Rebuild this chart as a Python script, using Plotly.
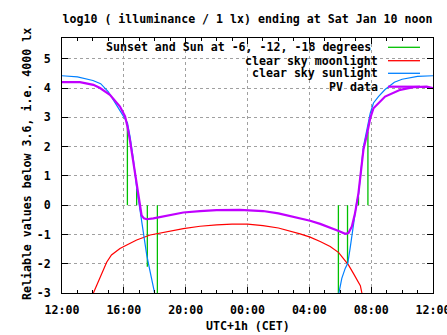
import pandas as pd
import plotly.graph_objects as go

# ---------------- data (hours after Fri Jan 9 12:00 CET) ----------------
base_time = "2015-01-09 12:00"

sun_h = [0, 1, 2, 2.5, 3, 3.5, 4.0, 4.23, 4.4, 4.61, 4.83, 4.94, 5.05, 5.26, 5.48,
         5.70, 5.91, 6.02, 6.15, None,
         17.8, 17.9, 18.1, 18.32, 18.49, 18.64, 18.79, 18.92, 19.07, 19.18, 19.35,
         19.5, 19.72, 19.94, 20.15, 20.47, 20.9, 21.5, 22, 23, 24]
sun_v = [4.42, 4.38, 4.26, 4.15, 3.87, 3.45, 3.0, 2.82, 2.35, 1.6, 0.6, 0.2, -0.25, -1.0, -1.7,
         -2.27, -2.73, -3.0, -3.4, None,
         -3.3, -3.0, -2.5, -2.16, -1.98, -1.47, -0.9, -0.33, 0.12, 0.35, 1.2,
         2.0, 2.57, 3.14, 3.49, 3.71, 3.95, 4.2, 4.3, 4.4, 4.42]

moon_h = [2.03, 2.2, 2.46, 2.89, 3.2, 3.75, 4.19, 4.83, 5.7, 6.78, 7.85, 8.93, 10, 11, 12,
          13, 14, 15.4, 16.05, 16.7, 17.35, 17.9, 18.2, 18.53, 18.85, 19.18, 19.3, 19.4]
moon_v = [-3.0, -2.8, -2.5, -1.95, -1.7, -1.48, -1.36, -1.19, -1.02, -0.90, -0.80, -0.72, -0.67,
          -0.65, -0.65, -0.70, -0.78, -0.98, -1.09, -1.24, -1.41, -1.62, -1.81, -2.04, -2.33,
          -2.61, -2.75, -3.0]

pv_h = [0, 1.16, 2.03, 2.46, 3.1, 3.75, 4.08, 4.23, 4.4, 4.61, 4.83, 4.94, 5.05, 5.15, 5.3,
        5.48, 5.91, 6.56, 7.0, 7.85, 8.93, 10, 11.5, 13, 14, 15.4, 16.05, 16.7, 17.35, 17.9,
        18.32, 18.53, 18.75, 18.96, 19.18, 19.4, 19.5, 19.72, 19.94, 20.15, 20.47, 20.9,
        21.88, 22.74, 23.6, 24]
pv_v = [4.2, 4.2, 4.11, 4.0, 3.77, 3.37, 3.03, 2.7, 2.2, 1.5, 0.7, 0.3, -0.1, -0.35, -0.45,
        -0.48, -0.45, -0.39, -0.33, -0.25, -0.2, -0.17, -0.16, -0.2, -0.28, -0.45, -0.53,
        -0.64, -0.76, -0.88, -0.98, -0.95, -0.73, -0.27, 0.42, 1.33, 1.9, 2.4, 2.97, 3.31,
        3.49, 3.71, 3.94, 4.03, 4.05, 4.0]

# sunset, -6, -12, -18 (evening) and -18, -12, -6, sunrise (morning)
twilight_h = [4.23, 4.83, 5.52, 6.17, 17.88, 18.47, 19.18, 19.79]
twilight_v = [2.82, 0.55, -2.1, -3.5, -3.1, -2.0, 0.3, 2.52]

x_tick_h = [0, 4, 8, 12, 16, 20, 24]
x_tick_text = ["12:00", "16:00", "20:00", "00:00", "04:00", "08:00", "12:00"]
y_tick_vals = [-3, -2, -1, 0, 1, 2, 3, 4, 5]
y_tick_text = ["-3", "-2", "-1", "0", "1", "2", "3", "4", "5"]

legend_names = ["Sunset and Sun at -6, -12, -18 degrees", "clear sky moonlight",
                "clear sky sunlight", "PV data"]
colors = ["#00c000", "#ff0000", "#0080ff", "#c000ff"]

title_text = "log10 ( illuminance / 1 lx) ending at Sat Jan 10 noon"
x_title = "UTC+1h (CET)"
y_title = "Reliable values below 3.6, i.e. 4000 lx"

# ---------------- build ----------------
t0 = pd.Timestamp(base_time)


def to_t(hours):
    return [None if h is None else t0 + pd.Timedelta(hours=h) for h in hours]


imp_x, imp_y = [], []
for h, v in zip(twilight_h, twilight_v):
    imp_x += [h, h, None]
    imp_y += [0, v, None]

FONT = "DejaVu Sans Mono"
fs = 11.6

fig = go.Figure()
fig.add_trace(go.Scatter(x=to_t(imp_x), y=imp_y, mode="lines",
                         line=dict(color=colors[0], width=1.3), name=legend_names[0]))
fig.add_trace(go.Scatter(x=to_t(moon_h), y=moon_v, mode="lines",
                         line=dict(color=colors[1], width=1.2), name=legend_names[1]))
fig.add_trace(go.Scatter(x=to_t(sun_h), y=sun_v, mode="lines",
                         line=dict(color=colors[2], width=1.2), name=legend_names[2]))
fig.add_trace(go.Scatter(x=to_t(pv_h), y=pv_v, mode="lines",
                         line=dict(color=colors[3], width=2.2), name=legend_names[3]))

fig.update_layout(
    width=447, height=335, autosize=False,
    margin=dict(l=62, r=14, t=38, b=42, pad=0),
    paper_bgcolor="white", plot_bgcolor="white",
    showlegend=False,
    font=dict(family=FONT, size=fs, color="black", weight="bold"),
    title=dict(text=title_text, x=0.5, xref="paper", xanchor="center",
               y=1 - 19 / 335, yref="container", yanchor="middle",
               font=dict(family=FONT, size=fs, color="black", weight="bold"),
               automargin=False),
)

fig.update_xaxes(
    type="date", range=[t0, t0 + pd.Timedelta(hours=24)],
    tickvals=to_t(x_tick_h), ticktext=x_tick_text,
    ticks="inside", ticklen=6, tickcolor="black", tickwidth=1,
    minor=dict(dtick=3600000, ticks="inside", ticklen=3, tickcolor="black", showgrid=False),
    showline=True, linecolor="black", linewidth=1, mirror="ticks",
    showgrid=True, gridcolor="#a0a0a0", griddash="dot", gridwidth=1,
    zeroline=False, ticklabelstandoff=6, ticklabeloverflow="allow", automargin=False,
    tickfont=dict(family=FONT, size=fs, color="black", weight="bold"),
)
fig.update_yaxes(
    range=[-3, 5.71],
    tickvals=y_tick_vals, ticktext=y_tick_text,
    ticks="inside", ticklen=6, tickcolor="black", tickwidth=1,
    showline=True, linecolor="black", linewidth=1, mirror="ticks",
    showgrid=True, gridcolor="#a0a0a0", griddash="dot", gridwidth=1,
    zeroline=False, ticklabelstandoff=8, automargin=False,
    tickfont=dict(family=FONT, size=fs, color="black", weight="bold"),
)

# plot area in pixels: x 62..433, y 38..293
def px(x):
    return (x - 62) / 371


def py(y):
    return (293 - y) / 255


# opaque key box (hides grid, curves drawn above)
fig.add_shape(type="rect", xref="paper", yref="paper", x0=px(108), x1=px(426),
              y0=py(92), y1=py(38.5), fillcolor="white", line=dict(width=0), layer="between")

key_rows = [47.3, 60.7, 73.3, 86.7]
key_text_right = [373, 380, 380, 380]
for name, col, ry, tr in zip(legend_names, colors, key_rows, key_text_right):
    fig.add_annotation(text=name, xref="paper", yref="paper", x=px(tr), y=py(ry),
                       xanchor="right", yanchor="middle", showarrow=False,
                       font=dict(family=FONT, size=fs, color="black", weight="bold"))
    fig.add_shape(type="line", xref="paper", yref="paper", x0=px(388), x1=px(420),
                  y0=py(ry), y1=py(ry), line=dict(color=col, width=1.3 if col != colors[3] else 2.2),
                  layer="above")

fig.add_annotation(text=x_title, xref="paper", yref="paper", x=px(247.5), y=py(326),
                   xanchor="center", yanchor="middle", showarrow=False,
                   font=dict(family=FONT, size=fs, color="black", weight="bold"))
fig.add_annotation(text=y_title, xref="paper", yref="paper", x=px(27), y=py(164),
                   xanchor="center", yanchor="middle", showarrow=False, textangle=-90,
                   font=dict(family=FONT, size=fs, color="black", weight="bold"))

fig.write_html("out.html")
